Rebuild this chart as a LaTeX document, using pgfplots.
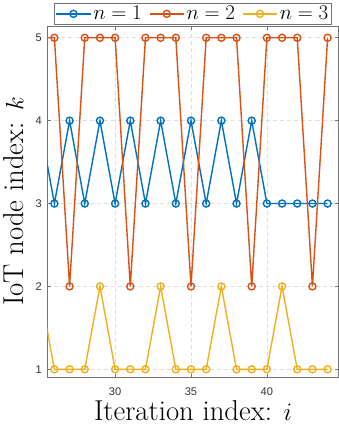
\documentclass[border=0pt]{standalone}
\usepackage{fontspec}
\usepackage{pgfplots}
\pgfplotsset{compat=1.18}
\newfontfamily\helv{Liberation Sans}

\definecolor{mblue}{rgb}{0,0.447,0.741}
\definecolor{mred}{rgb}{0.85,0.325,0.098}
\definecolor{myellow}{rgb}{0.929,0.694,0.125}

\begin{document}
\begin{tikzpicture}
\begin{axis}[
    scale only axis,
    width=289pt, height=348pt,
    xmin=25.53, xmax=44.73,
    ymin=0.906, ymax=5.14,
    xtick={30,35,40},
    ytick={1,2,3,4,5},
    grid=major,
    major grid style={dash pattern=on 4pt off 3pt, black!13, line width=0.6pt},
    axis line style={black!55, line width=0.6pt},
    tick style={black!55, line width=0.6pt},
    tick align=inside,
    major tick length=3.5pt,
    /pgf/number format/assume math mode=true,
    ticklabel style={font=\helv\fontsize{11}{11}\selectfont, text=black!80},
    xticklabel style={yshift=-7pt},
    yticklabel style={xshift=-2pt},
    xlabel={Iteration index: $i$},
    ylabel={IoT node index: $k$},
    label style={font=\fontsize{28.5}{28.5}\selectfont},
    xlabel style={at={([yshift=-43.5pt]axis description cs:0.5,0)}, anchor=base, inner sep=1pt},
    ylabel style={at={([xshift=-23.7pt]axis description cs:0,0.5)}, anchor=base, inner sep=3.4pt},
    every axis plot/.append style={line width=1.4pt, mark=o, mark size=3.5pt},
    legend columns=3,
    legend style={name=leg, at={(0.5,1)}, anchor=south, yshift=1.5pt,
        draw=black!55, line width=0.6pt,
        font=\fontsize{20}{20}\selectfont,
        inner xsep=1pt, inner ysep=1pt,
        /tikz/every even column/.append style={column sep=5pt}},
    legend image code/.code={
        \draw[mark repeat=2, mark phase=2] plot coordinates {(0pt,0pt) (17pt,0pt) (34pt,0pt)};},
]
\addplot[color=mblue] coordinates {
(25,4) (26,3) (27,4) (28,3) (29,4) (30,3) (31,4) (32,3) (33,4) (34,3)
(35,4) (36,3) (37,4) (38,3) (39,4) (40,3) (41,3) (42,3) (43,3) (44,3)};
\addplot[color=mred] coordinates {
(25,5) (26,5) (27,2) (28,5) (29,5) (30,5) (31,2) (32,5) (33,5) (34,5)
(35,2) (36,5) (37,5) (38,5) (39,2) (40,5) (41,5) (42,5) (43,2) (44,5)};
\addplot[color=myellow] coordinates {
(25,2) (26,1) (27,1) (28,1) (29,2) (30,1) (31,1) (32,1) (33,2) (34,1)
(35,1) (36,1) (37,2) (38,1) (39,1) (40,1) (41,2) (42,1) (43,1) (44,1)};
\legend{$n=1$, $n=2$, $n=3$}
\end{axis}
\path ([yshift=3pt]leg.north);
\path (current axis.south) ++(0,-49.5pt);
\end{tikzpicture}
\end{document}
